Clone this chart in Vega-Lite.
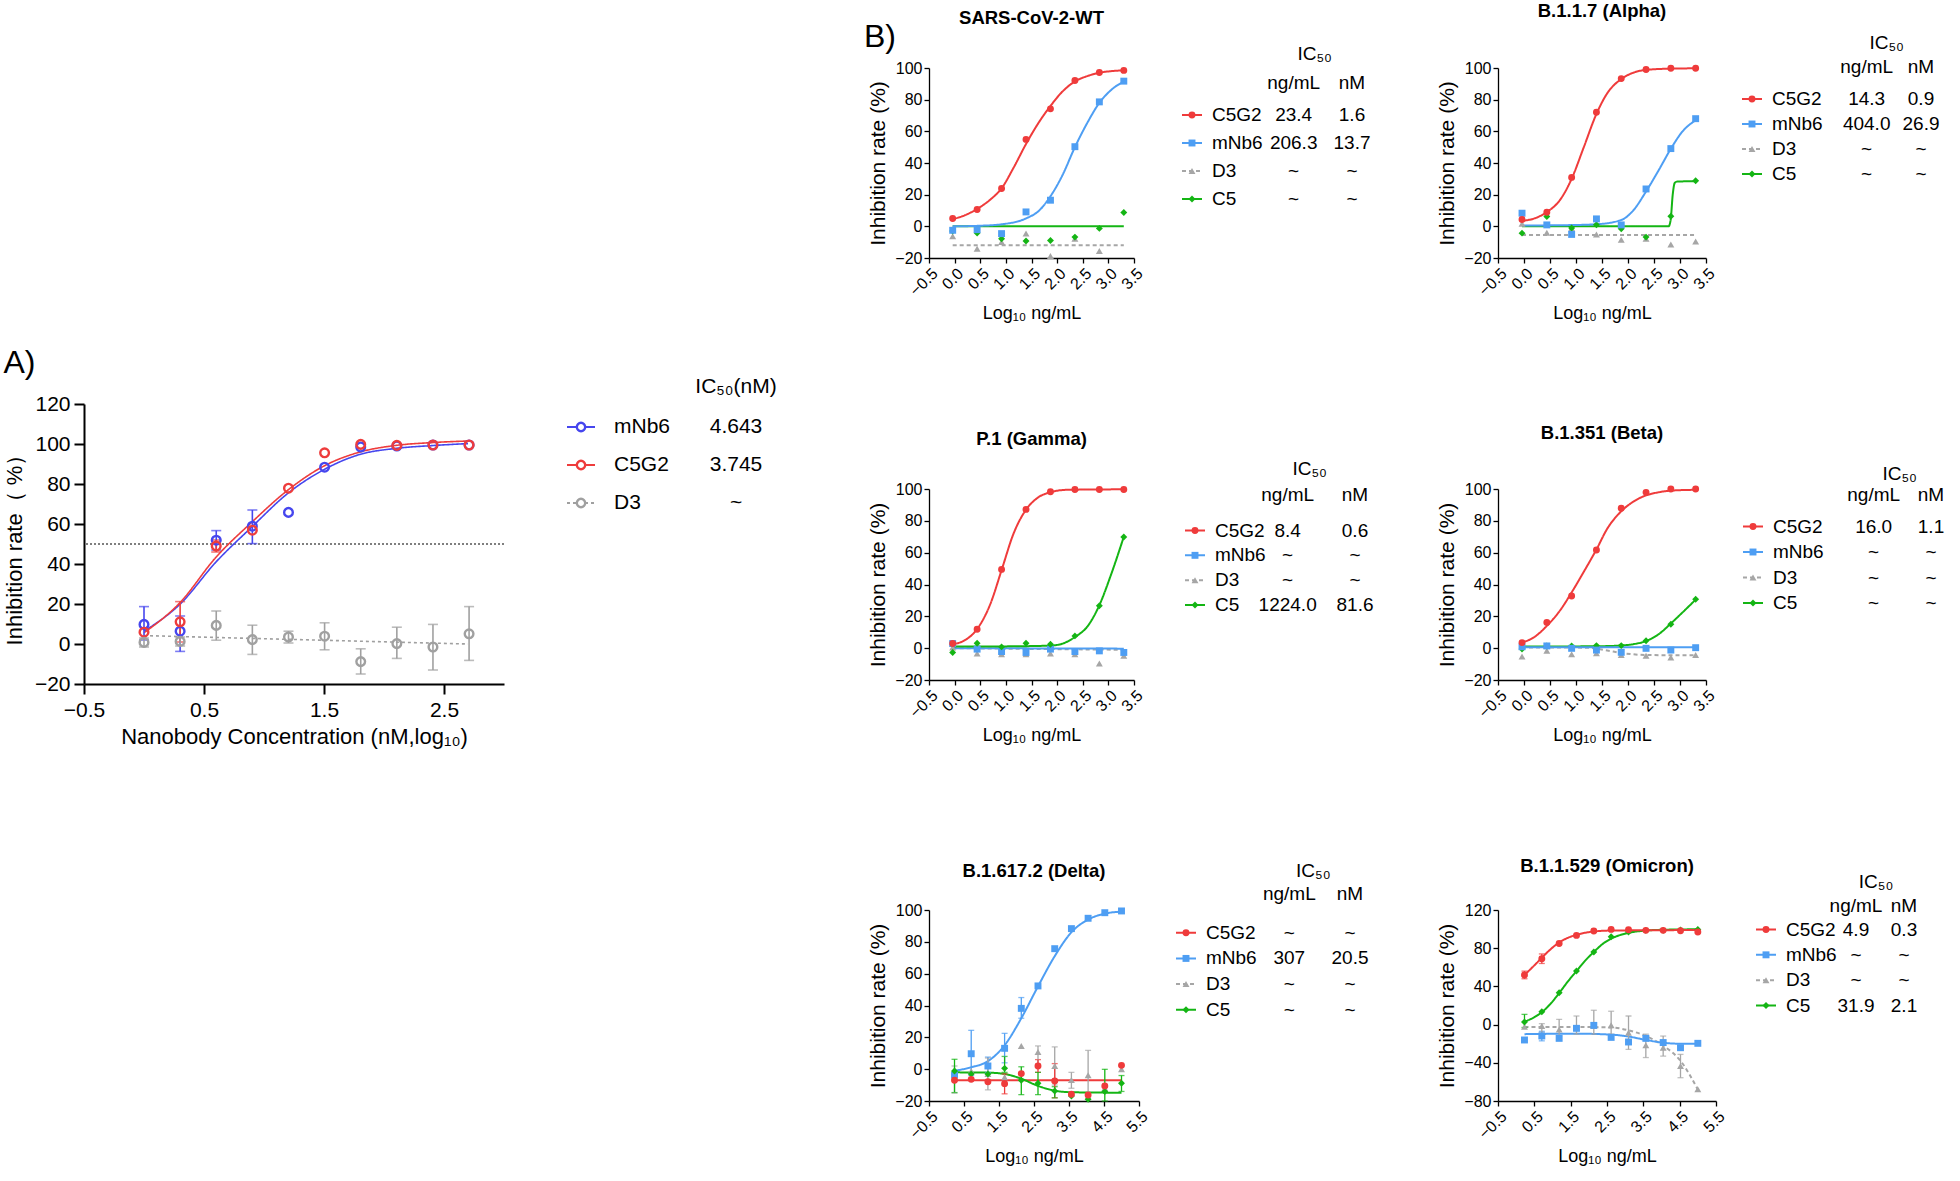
{
"$schema": "https://vega.github.io/schema/vega-lite/v6.json",
"background": "white",
"padding": {"left": 3, "top": 1, "right": 0, "bottom": 0},
"config": {
  "font": "Liberation Sans",
  "view": {"stroke": null},
  "axis": {"grid": false, "domainColor": "#000", "tickColor": "#000", "labelColor": "#000", "titleColor": "#000", "labelFont": "Liberation Sans", "titleFont": "Liberation Sans", "titleFontWeight": "normal", "labelFontSize": 16, "titleFontSize": 18, "domainWidth": 1.3, "tickWidth": 1.3, "tickSize": 5, "labelPadding": 2, "labelOverlap": false, "labelFlush": false},
  "legend": {"disable": true},
  "title": {"font": "Liberation Sans", "color": "#000"},
  "text": {"font": "Liberation Sans", "color": "#000", "baseline": "middle"}
},
"datasets": {
  "ptsA": [
    {"s":"mNb6","x":0,"y":9.8},{"s":"mNb6","x":0.301,"y":6.4},{"s":"mNb6","x":0.602,"y":51.9},{"s":"mNb6","x":0.903,"y":58.9},{"s":"mNb6","x":1.204,"y":65.8},{"s":"mNb6","x":1.505,"y":88.4},{"s":"mNb6","x":1.806,"y":98.5},{"s":"mNb6","x":2.107,"y":99},{"s":"mNb6","x":2.408,"y":99.5},{"s":"mNb6","x":2.709,"y":99.5},
    {"s":"C5G2","x":0,"y":5.9},{"s":"C5G2","x":0.301,"y":11.1},{"s":"C5G2","x":0.602,"y":49},{"s":"C5G2","x":0.903,"y":56.9},{"s":"C5G2","x":1.204,"y":77.9},{"s":"C5G2","x":1.505,"y":95.6},{"s":"C5G2","x":1.806,"y":99.8},{"s":"C5G2","x":2.107,"y":99.3},{"s":"C5G2","x":2.408,"y":99.5},{"s":"C5G2","x":2.709,"y":99.5},
    {"s":"D3","x":0,"y":0.8},{"s":"D3","x":0.301,"y":1.3},{"s":"D3","x":0.602,"y":9.3},{"s":"D3","x":0.903,"y":2.2},{"s":"D3","x":1.204,"y":3.5},{"s":"D3","x":1.505,"y":3.9},{"s":"D3","x":1.806,"y":-8.8},{"s":"D3","x":2.107,"y":0.2},{"s":"D3","x":2.408,"y":-1.5},{"s":"D3","x":2.709,"y":5.1}
  ],
  "errA": [
    {"s":"mNb6","x":0,"lo":2,"hi":18.7},{"s":"mNb6","x":0.301,"lo":-3.7,"hi":14},{"s":"mNb6","x":0.602,"lo":47,"hi":56.7},{"s":"mNb6","x":0.903,"lo":50.2,"hi":67},
    {"s":"C5G2","x":0.301,"lo":1,"hi":21.2},{"s":"C5G2","x":0.602,"lo":46,"hi":52},
    {"s":"D3","x":0,"lo":-1.5,"hi":3},{"s":"D3","x":0.301,"lo":-1,"hi":3.5},{"s":"D3","x":0.602,"lo":1.9,"hi":16.5},{"s":"D3","x":0.903,"lo":-5.2,"hi":9.4},{"s":"D3","x":1.204,"lo":0.5,"hi":6.4},{"s":"D3","x":1.505,"lo":-2.9,"hi":10.6},{"s":"D3","x":1.806,"lo":-15,"hi":-2.4},{"s":"D3","x":2.107,"lo":-7.2,"hi":8.4},{"s":"D3","x":2.408,"lo":-13,"hi":9.8},{"s":"D3","x":2.709,"lo":-8.2,"hi":18.7}
  ],
  "fitA": [
    {"s":"mNb6","x":0,"y":6.4},{"s":"mNb6","x":0.3,"y":19.9},{"s":"mNb6","x":0.6,"y":41},{"s":"mNb6","x":0.9,"y":58.6},{"s":"mNb6","x":1.2,"y":75.4},{"s":"mNb6","x":1.5,"y":87.2},{"s":"mNb6","x":1.8,"y":94.8},{"s":"mNb6","x":2.1,"y":97.8},{"s":"mNb6","x":2.4,"y":99.2},{"s":"mNb6","x":2.7,"y":100.2},
    {"s":"C5G2","x":0,"y":5.6},{"s":"C5G2","x":0.3,"y":20.7},{"s":"C5G2","x":0.6,"y":43.4},{"s":"C5G2","x":0.9,"y":61},{"s":"C5G2","x":1.2,"y":77},{"s":"C5G2","x":1.5,"y":89},{"s":"C5G2","x":1.8,"y":96},{"s":"C5G2","x":2.1,"y":99.3},{"s":"C5G2","x":2.4,"y":100.7},{"s":"C5G2","x":2.7,"y":101.5},
    {"s":"D3","x":0,"y":4.2},{"s":"D3","x":2.7,"y":0}
  ],
  "legA": [
    {"s":"mNb6","v":"4.643"},{"s":"C5G2","v":"3.745"},{"s":"D3","v":"~"}
  ],
  "pts": [
    {"p":"WT","s":"C5G2","x":-0.038,"y":4.9},{"p":"WT","s":"C5G2","x":0.439,"y":10.6},{"p":"WT","s":"C5G2","x":0.916,"y":23.9},{"p":"WT","s":"C5G2","x":1.393,"y":54.9},{"p":"WT","s":"C5G2","x":1.87,"y":74.2},{"p":"WT","s":"C5G2","x":2.347,"y":92.1},{"p":"WT","s":"C5G2","x":2.824,"y":97.2},{"p":"WT","s":"C5G2","x":3.301,"y":98.5},
    {"p":"WT","s":"D3","x":-0.038,"y":-6.3},{"p":"WT","s":"D3","x":0.439,"y":-14.2},{"p":"WT","s":"D3","x":0.916,"y":-9.9},{"p":"WT","s":"D3","x":1.393,"y":-4.6},{"p":"WT","s":"D3","x":1.87,"y":-18.8},{"p":"WT","s":"D3","x":2.347,"y":-7.8},{"p":"WT","s":"D3","x":2.824,"y":-15.6},
    {"p":"WT","s":"C5","x":-0.038,"y":-3},{"p":"WT","s":"C5","x":0.439,"y":-4.2},{"p":"WT","s":"C5","x":0.916,"y":-7.8},{"p":"WT","s":"C5","x":1.393,"y":-9.3},{"p":"WT","s":"C5","x":1.87,"y":-8.9},{"p":"WT","s":"C5","x":2.347,"y":-6.8},{"p":"WT","s":"C5","x":2.824,"y":-1.3},{"p":"WT","s":"C5","x":3.301,"y":8.7},
    {"p":"WT","s":"mNb6","x":-0.038,"y":-2.5},{"p":"WT","s":"mNb6","x":0.439,"y":-2.1},{"p":"WT","s":"mNb6","x":0.916,"y":-4.6},{"p":"WT","s":"mNb6","x":1.393,"y":9.1},{"p":"WT","s":"mNb6","x":1.87,"y":16.5},{"p":"WT","s":"mNb6","x":2.347,"y":50.3},{"p":"WT","s":"mNb6","x":2.824,"y":78.6},{"p":"WT","s":"mNb6","x":3.301,"y":91.7},

    {"p":"Alpha","s":"D3","x":-0.038,"y":1.6},{"p":"Alpha","s":"D3","x":0.439,"y":-4.1},{"p":"Alpha","s":"D3","x":0.916,"y":-1.2},{"p":"Alpha","s":"D3","x":1.393,"y":-5.1},{"p":"Alpha","s":"D3","x":1.87,"y":-8.4},{"p":"Alpha","s":"D3","x":2.347,"y":-7.9},{"p":"Alpha","s":"D3","x":2.824,"y":-11.4},{"p":"Alpha","s":"D3","x":3.301,"y":-9.5},
    {"p":"Alpha","s":"C5","x":-0.038,"y":-4.3},{"p":"Alpha","s":"C5","x":0.439,"y":6.2},{"p":"Alpha","s":"C5","x":0.916,"y":-1},{"p":"Alpha","s":"C5","x":1.393,"y":1},{"p":"Alpha","s":"C5","x":1.87,"y":-1.6},{"p":"Alpha","s":"C5","x":2.347,"y":-6.8},{"p":"Alpha","s":"C5","x":2.824,"y":6.4},{"p":"Alpha","s":"C5","x":3.301,"y":28.8},
    {"p":"Alpha","s":"mNb6","x":-0.038,"y":8.3},{"p":"Alpha","s":"mNb6","x":0.439,"y":0.9},{"p":"Alpha","s":"mNb6","x":0.916,"y":-5.1},{"p":"Alpha","s":"mNb6","x":1.393,"y":4.7},{"p":"Alpha","s":"mNb6","x":1.87,"y":0.9},{"p":"Alpha","s":"mNb6","x":2.347,"y":23.6},{"p":"Alpha","s":"mNb6","x":2.824,"y":49.1},{"p":"Alpha","s":"mNb6","x":3.301,"y":68},
    {"p":"Alpha","s":"C5G2","x":-0.038,"y":4.3},{"p":"Alpha","s":"C5G2","x":0.439,"y":8.9},{"p":"Alpha","s":"C5G2","x":0.916,"y":30.9},{"p":"Alpha","s":"C5G2","x":1.393,"y":72.1},{"p":"Alpha","s":"C5G2","x":1.87,"y":93.3},{"p":"Alpha","s":"C5G2","x":2.347,"y":99},{"p":"Alpha","s":"C5G2","x":2.824,"y":99.8},{"p":"Alpha","s":"C5G2","x":3.301,"y":99.8},

    {"p":"Gamma","s":"D3","x":-0.038,"y":0.4},{"p":"Gamma","s":"D3","x":0.439,"y":-3.3},{"p":"Gamma","s":"D3","x":0.916,"y":-3.8},{"p":"Gamma","s":"D3","x":1.393,"y":-3.8},{"p":"Gamma","s":"D3","x":1.87,"y":-3.3},{"p":"Gamma","s":"D3","x":2.347,"y":-3.8},{"p":"Gamma","s":"D3","x":2.824,"y":-9.6},{"p":"Gamma","s":"D3","x":3.301,"y":-4.8},
    {"p":"Gamma","s":"mNb6","x":-0.038,"y":2.9},{"p":"Gamma","s":"mNb6","x":0.439,"y":-0.6},{"p":"Gamma","s":"mNb6","x":0.916,"y":-2.1},{"p":"Gamma","s":"mNb6","x":1.393,"y":-2.7},{"p":"Gamma","s":"mNb6","x":1.87,"y":-0.6},{"p":"Gamma","s":"mNb6","x":2.347,"y":-2.1},{"p":"Gamma","s":"mNb6","x":2.824,"y":-1.7},{"p":"Gamma","s":"mNb6","x":3.301,"y":-2.7},
    {"p":"Gamma","s":"C5","x":-0.038,"y":-2.7},{"p":"Gamma","s":"C5","x":0.439,"y":3.1},{"p":"Gamma","s":"C5","x":0.916,"y":0.8},{"p":"Gamma","s":"C5","x":1.393,"y":3.1},{"p":"Gamma","s":"C5","x":1.87,"y":2.5},{"p":"Gamma","s":"C5","x":2.347,"y":7.7},{"p":"Gamma","s":"C5","x":2.824,"y":26.6},{"p":"Gamma","s":"C5","x":3.301,"y":69.8},
    {"p":"Gamma","s":"C5G2","x":-0.038,"y":2.9},{"p":"Gamma","s":"C5G2","x":0.439,"y":11.9},{"p":"Gamma","s":"C5G2","x":0.916,"y":49.5},{"p":"Gamma","s":"C5G2","x":1.393,"y":87.2},{"p":"Gamma","s":"C5G2","x":1.87,"y":98.3},{"p":"Gamma","s":"C5G2","x":2.347,"y":99.7},{"p":"Gamma","s":"C5G2","x":2.824,"y":99.7},{"p":"Gamma","s":"C5G2","x":3.301,"y":99.7},

    {"p":"Beta","s":"D3","x":-0.038,"y":-5.3},{"p":"Beta","s":"D3","x":0.439,"y":-1.6},{"p":"Beta","s":"D3","x":0.916,"y":-3.9},{"p":"Beta","s":"D3","x":1.393,"y":-3.2},{"p":"Beta","s":"D3","x":1.87,"y":-4.3},{"p":"Beta","s":"D3","x":2.347,"y":-4.7},{"p":"Beta","s":"D3","x":2.824,"y":-5.8},{"p":"Beta","s":"D3","x":3.301,"y":-4.3},
    {"p":"Beta","s":"C5","x":-0.038,"y":-0.5},{"p":"Beta","s":"C5","x":0.439,"y":1.4},{"p":"Beta","s":"C5","x":0.916,"y":1.4},{"p":"Beta","s":"C5","x":1.393,"y":1.6},{"p":"Beta","s":"C5","x":1.87,"y":1.6},{"p":"Beta","s":"C5","x":2.347,"y":4.7},{"p":"Beta","s":"C5","x":2.824,"y":15},{"p":"Beta","s":"C5","x":3.301,"y":30.7},
    {"p":"Beta","s":"mNb6","x":-0.038,"y":0.9},{"p":"Beta","s":"mNb6","x":0.439,"y":1.4},{"p":"Beta","s":"mNb6","x":0.916,"y":-0.1},{"p":"Beta","s":"mNb6","x":1.393,"y":-1.2},{"p":"Beta","s":"mNb6","x":1.87,"y":-2.6},{"p":"Beta","s":"mNb6","x":2.347,"y":-0.1},{"p":"Beta","s":"mNb6","x":2.824,"y":-1.2},{"p":"Beta","s":"mNb6","x":3.301,"y":0.3},
    {"p":"Beta","s":"C5G2","x":-0.038,"y":3.5},{"p":"Beta","s":"C5G2","x":0.439,"y":16.2},{"p":"Beta","s":"C5G2","x":0.916,"y":32.8},{"p":"Beta","s":"C5G2","x":1.393,"y":61.7},{"p":"Beta","s":"C5G2","x":1.87,"y":87.9},{"p":"Beta","s":"C5G2","x":2.347,"y":97.9},{"p":"Beta","s":"C5G2","x":2.824,"y":100},{"p":"Beta","s":"C5G2","x":3.301,"y":100},

    {"p":"Delta","s":"D3","x":0.229,"y":-5},{"p":"Delta","s":"D3","x":0.706,"y":-1.2},{"p":"Delta","s":"D3","x":1.183,"y":-3},{"p":"Delta","s":"D3","x":1.66,"y":-5},{"p":"Delta","s":"D3","x":2.137,"y":14.6},{"p":"Delta","s":"D3","x":2.614,"y":10.8},{"p":"Delta","s":"D3","x":3.092,"y":2},{"p":"Delta","s":"D3","x":3.569,"y":-6.8},{"p":"Delta","s":"D3","x":4.046,"y":-3.9},{"p":"Delta","s":"D3","x":4.523,"y":-12},{"p":"Delta","s":"D3","x":5.0,"y":0},
    {"p":"Delta","s":"mNb6","x":0.229,"y":-3.7},{"p":"Delta","s":"mNb6","x":0.706,"y":9.7},{"p":"Delta","s":"mNb6","x":1.183,"y":2},{"p":"Delta","s":"mNb6","x":1.66,"y":13.1},{"p":"Delta","s":"mNb6","x":2.137,"y":38.2},{"p":"Delta","s":"mNb6","x":2.614,"y":52.3},{"p":"Delta","s":"mNb6","x":3.092,"y":75.7},{"p":"Delta","s":"mNb6","x":3.569,"y":88.3},{"p":"Delta","s":"mNb6","x":4.046,"y":94.8},{"p":"Delta","s":"mNb6","x":4.523,"y":98.3},{"p":"Delta","s":"mNb6","x":5.0,"y":99.4},
    {"p":"Delta","s":"C5","x":0.229,"y":-1.2},{"p":"Delta","s":"C5","x":0.706,"y":-3},{"p":"Delta","s":"C5","x":1.183,"y":-3},{"p":"Delta","s":"C5","x":1.66,"y":0.5},{"p":"Delta","s":"C5","x":2.137,"y":-7},{"p":"Delta","s":"C5","x":2.614,"y":-8.9},{"p":"Delta","s":"C5","x":3.092,"y":-13.7},{"p":"Delta","s":"C5","x":3.569,"y":-16.9},{"p":"Delta","s":"C5","x":4.046,"y":-18.9},{"p":"Delta","s":"C5","x":4.523,"y":-14.1},{"p":"Delta","s":"C5","x":5.0,"y":-8.9},
    {"p":"Delta","s":"C5G2","x":0.229,"y":-7},{"p":"Delta","s":"C5G2","x":0.706,"y":-6.4},{"p":"Delta","s":"C5G2","x":1.183,"y":-7.9},{"p":"Delta","s":"C5G2","x":1.66,"y":-9.1},{"p":"Delta","s":"C5G2","x":2.137,"y":-2.8},{"p":"Delta","s":"C5G2","x":2.614,"y":2},{"p":"Delta","s":"C5G2","x":3.092,"y":-7.4},{"p":"Delta","s":"C5G2","x":3.569,"y":-15.8},{"p":"Delta","s":"C5G2","x":4.046,"y":-16.2},{"p":"Delta","s":"C5G2","x":4.523,"y":-10.5},{"p":"Delta","s":"C5G2","x":5.0,"y":2.4},

    {"p":"Omicron","s":"D3","x":0.229,"y":-2.2},{"p":"Omicron","s":"D3","x":0.706,"y":-1.5},{"p":"Omicron","s":"D3","x":1.183,"y":-5},{"p":"Omicron","s":"D3","x":1.66,"y":-3.2},{"p":"Omicron","s":"D3","x":2.137,"y":-1.5},{"p":"Omicron","s":"D3","x":2.614,"y":-0.8},{"p":"Omicron","s":"D3","x":3.092,"y":-8.5},{"p":"Omicron","s":"D3","x":3.569,"y":-21.7},{"p":"Omicron","s":"D3","x":4.046,"y":-24.2},{"p":"Omicron","s":"D3","x":4.523,"y":-43.4},{"p":"Omicron","s":"D3","x":5.0,"y":-67.8},
    {"p":"Omicron","s":"mNb6","x":0.229,"y":-16.1},{"p":"Omicron","s":"mNb6","x":0.706,"y":-11.9},{"p":"Omicron","s":"mNb6","x":1.183,"y":-14.4},{"p":"Omicron","s":"mNb6","x":1.66,"y":-3.9},{"p":"Omicron","s":"mNb6","x":2.137,"y":-0.8},{"p":"Omicron","s":"mNb6","x":2.614,"y":-13.4},{"p":"Omicron","s":"mNb6","x":3.092,"y":-18.2},{"p":"Omicron","s":"mNb6","x":3.569,"y":-14.4},{"p":"Omicron","s":"mNb6","x":4.046,"y":-18.8},{"p":"Omicron","s":"mNb6","x":4.523,"y":-24.2},{"p":"Omicron","s":"mNb6","x":5.0,"y":-19.6},
    {"p":"Omicron","s":"C5","x":0.229,"y":2.7},{"p":"Omicron","s":"C5","x":0.706,"y":13.5},{"p":"Omicron","s":"C5","x":1.183,"y":33.4},{"p":"Omicron","s":"C5","x":1.66,"y":56.1},{"p":"Omicron","s":"C5","x":2.137,"y":76},{"p":"Omicron","s":"C5","x":2.614,"y":92},{"p":"Omicron","s":"C5","x":3.092,"y":97},{"p":"Omicron","s":"C5","x":3.569,"y":98.7},{"p":"Omicron","s":"C5","x":4.046,"y":98.7},{"p":"Omicron","s":"C5","x":4.523,"y":99},{"p":"Omicron","s":"C5","x":5.0,"y":99.7},
    {"p":"Omicron","s":"C5G2","x":0.229,"y":52},{"p":"Omicron","s":"C5G2","x":0.706,"y":69},{"p":"Omicron","s":"C5G2","x":1.183,"y":85},{"p":"Omicron","s":"C5G2","x":1.66,"y":93.4},{"p":"Omicron","s":"C5G2","x":2.137,"y":98},{"p":"Omicron","s":"C5G2","x":2.614,"y":99.7},{"p":"Omicron","s":"C5G2","x":3.092,"y":99.4},{"p":"Omicron","s":"C5G2","x":3.569,"y":98.7},{"p":"Omicron","s":"C5G2","x":4.046,"y":98.7},{"p":"Omicron","s":"C5G2","x":4.523,"y":98.3},{"p":"Omicron","s":"C5G2","x":5.0,"y":97}
  ],
  "err": [
    {"p":"Delta","s":"mNb6","x":0.706,"lo":-4,"hi":24.4},{"p":"Delta","s":"mNb6","x":1.183,"lo":-2,"hi":7.6},{"p":"Delta","s":"mNb6","x":1.66,"lo":4,"hi":22.5},{"p":"Delta","s":"mNb6","x":2.137,"lo":32,"hi":45},
    {"p":"Delta","s":"D3","x":0.229,"lo":-15,"hi":2},{"p":"Delta","s":"D3","x":1.183,"lo":-13,"hi":7},{"p":"Delta","s":"D3","x":2.614,"lo":3,"hi":14.6},{"p":"Delta","s":"D3","x":3.092,"lo":-10,"hi":14},{"p":"Delta","s":"D3","x":3.569,"lo":-12,"hi":-2},{"p":"Delta","s":"D3","x":4.046,"lo":-18,"hi":11.8},
    {"p":"Delta","s":"C5G2","x":1.66,"lo":-15.5,"hi":-3},{"p":"Delta","s":"C5G2","x":2.614,"lo":-2,"hi":6},{"p":"Delta","s":"C5G2","x":3.092,"lo":-18,"hi":3.5},
    {"p":"Delta","s":"C5","x":0.229,"lo":-14.7,"hi":6.2},{"p":"Delta","s":"C5","x":1.66,"lo":-2,"hi":8},{"p":"Delta","s":"C5","x":2.137,"lo":-16,"hi":1.5},{"p":"Delta","s":"C5","x":2.614,"lo":-16,"hi":-2},{"p":"Delta","s":"C5","x":3.092,"lo":-18,"hi":-11},{"p":"Delta","s":"C5","x":4.523,"lo":-20,"hi":-0.1},{"p":"Delta","s":"C5","x":5.0,"lo":-14,"hi":-4},
    {"p":"Omicron","s":"C5G2","x":0.229,"lo":48,"hi":56},{"p":"Omicron","s":"C5G2","x":0.706,"lo":64,"hi":74},
    {"p":"Omicron","s":"C5","x":0.229,"lo":-3,"hi":10.7},
    {"p":"Omicron","s":"mNb6","x":0.706,"lo":-17,"hi":-7},
    {"p":"Omicron","s":"D3","x":0.706,"lo":-8,"hi":1},{"p":"Omicron","s":"D3","x":1.183,"lo":-12,"hi":5.5},{"p":"Omicron","s":"D3","x":1.66,"lo":-10,"hi":9},{"p":"Omicron","s":"D3","x":2.137,"lo":-10,"hi":15},{"p":"Omicron","s":"D3","x":2.614,"lo":-10,"hi":14},{"p":"Omicron","s":"D3","x":3.092,"lo":-26,"hi":9},{"p":"Omicron","s":"D3","x":3.569,"lo":-34.5,"hi":-10},{"p":"Omicron","s":"D3","x":4.046,"lo":-33,"hi":-12},{"p":"Omicron","s":"D3","x":4.523,"lo":-55.6,"hi":-31.2}
  ],
  "fit": [
    {"p":"WT","s":"D3","x":-0.038,"y":-12},{"p":"WT","s":"D3","x":3.301,"y":-12},
    {"p":"WT","s":"C5","x":-0.038,"y":0},{"p":"WT","s":"C5","x":3.301,"y":0},
    {"p":"WT","s":"C5G2","x":-0.038,"y":4.5},{"p":"WT","s":"C5G2","x":0.2,"y":7},{"p":"WT","s":"C5G2","x":0.439,"y":11},{"p":"WT","s":"C5G2","x":0.7,"y":17},{"p":"WT","s":"C5G2","x":0.916,"y":24},{"p":"WT","s":"C5G2","x":1.15,"y":37},{"p":"WT","s":"C5G2","x":1.393,"y":52},{"p":"WT","s":"C5G2","x":1.65,"y":66},{"p":"WT","s":"C5G2","x":1.87,"y":76},{"p":"WT","s":"C5G2","x":2.1,"y":85},{"p":"WT","s":"C5G2","x":2.347,"y":91.5},{"p":"WT","s":"C5G2","x":2.6,"y":95},{"p":"WT","s":"C5G2","x":2.824,"y":97},{"p":"WT","s":"C5G2","x":3.05,"y":98},{"p":"WT","s":"C5G2","x":3.301,"y":98.5},
    {"p":"WT","s":"mNb6","x":-0.038,"y":0},{"p":"WT","s":"mNb6","x":0.439,"y":0.3},{"p":"WT","s":"mNb6","x":0.916,"y":1.3},{"p":"WT","s":"mNb6","x":1.393,"y":5},{"p":"WT","s":"mNb6","x":1.65,"y":10},{"p":"WT","s":"mNb6","x":1.87,"y":19},{"p":"WT","s":"mNb6","x":2.1,"y":32},{"p":"WT","s":"mNb6","x":2.347,"y":50},{"p":"WT","s":"mNb6","x":2.6,"y":66},{"p":"WT","s":"mNb6","x":2.824,"y":78},{"p":"WT","s":"mNb6","x":3.05,"y":86},{"p":"WT","s":"mNb6","x":3.301,"y":91.5},

    {"p":"Alpha","s":"D3","x":-0.038,"y":-5.5},{"p":"Alpha","s":"D3","x":3.301,"y":-5.5},
    {"p":"Alpha","s":"C5","x":-0.038,"y":0},{"p":"Alpha","s":"C5","x":2.78,"y":0},{"p":"Alpha","s":"C5","x":2.82,"y":4},{"p":"Alpha","s":"C5","x":2.86,"y":20},{"p":"Alpha","s":"C5","x":2.9,"y":27.5},{"p":"Alpha","s":"C5","x":2.95,"y":28.3},{"p":"Alpha","s":"C5","x":3.301,"y":28.5},
    {"p":"Alpha","s":"mNb6","x":-0.038,"y":0.5},{"p":"Alpha","s":"mNb6","x":0.916,"y":0.8},{"p":"Alpha","s":"mNb6","x":1.393,"y":1.3},{"p":"Alpha","s":"mNb6","x":1.87,"y":4},{"p":"Alpha","s":"mNb6","x":2.1,"y":10},{"p":"Alpha","s":"mNb6","x":2.347,"y":22},{"p":"Alpha","s":"mNb6","x":2.6,"y":36},{"p":"Alpha","s":"mNb6","x":2.824,"y":49},{"p":"Alpha","s":"mNb6","x":3.05,"y":60},{"p":"Alpha","s":"mNb6","x":3.301,"y":67},
    {"p":"Alpha","s":"C5G2","x":-0.038,"y":3.5},{"p":"Alpha","s":"C5G2","x":0.2,"y":5},{"p":"Alpha","s":"C5G2","x":0.439,"y":9},{"p":"Alpha","s":"C5G2","x":0.7,"y":17},{"p":"Alpha","s":"C5G2","x":0.916,"y":30},{"p":"Alpha","s":"C5G2","x":1.15,"y":50},{"p":"Alpha","s":"C5G2","x":1.393,"y":71},{"p":"Alpha","s":"C5G2","x":1.6,"y":84},{"p":"Alpha","s":"C5G2","x":1.87,"y":93},{"p":"Alpha","s":"C5G2","x":2.1,"y":97},{"p":"Alpha","s":"C5G2","x":2.347,"y":98.8},{"p":"Alpha","s":"C5G2","x":2.824,"y":99.6},{"p":"Alpha","s":"C5G2","x":3.301,"y":99.8},

    {"p":"Gamma","s":"D3","x":-0.038,"y":0},{"p":"Gamma","s":"D3","x":3.301,"y":-1},
    {"p":"Gamma","s":"mNb6","x":-0.038,"y":0},{"p":"Gamma","s":"mNb6","x":3.301,"y":-0.3},
    {"p":"Gamma","s":"C5","x":-0.038,"y":1},{"p":"Gamma","s":"C5","x":0.916,"y":1.1},{"p":"Gamma","s":"C5","x":1.87,"y":1.6},{"p":"Gamma","s":"C5","x":2.1,"y":2.8},{"p":"Gamma","s":"C5","x":2.347,"y":7},{"p":"Gamma","s":"C5","x":2.6,"y":14},{"p":"Gamma","s":"C5","x":2.824,"y":27},{"p":"Gamma","s":"C5","x":3.05,"y":46},{"p":"Gamma","s":"C5","x":3.301,"y":70},
    {"p":"Gamma","s":"C5G2","x":-0.038,"y":2.5},{"p":"Gamma","s":"C5G2","x":0.2,"y":5},{"p":"Gamma","s":"C5G2","x":0.439,"y":12},{"p":"Gamma","s":"C5G2","x":0.7,"y":28},{"p":"Gamma","s":"C5G2","x":0.916,"y":49},{"p":"Gamma","s":"C5G2","x":1.15,"y":72},{"p":"Gamma","s":"C5G2","x":1.393,"y":87},{"p":"Gamma","s":"C5G2","x":1.6,"y":94},{"p":"Gamma","s":"C5G2","x":1.87,"y":98},{"p":"Gamma","s":"C5G2","x":2.2,"y":99.5},{"p":"Gamma","s":"C5G2","x":3.301,"y":99.8},

    {"p":"Beta","s":"D3","x":-0.038,"y":0.5},{"p":"Beta","s":"D3","x":1.2,"y":0.3},{"p":"Beta","s":"D3","x":1.6,"y":-1.5},{"p":"Beta","s":"D3","x":1.87,"y":-3},{"p":"Beta","s":"D3","x":2.347,"y":-4.3},{"p":"Beta","s":"D3","x":3.301,"y":-4.5},
    {"p":"Beta","s":"C5","x":-0.038,"y":1},{"p":"Beta","s":"C5","x":1.393,"y":1.2},{"p":"Beta","s":"C5","x":1.87,"y":1.7},{"p":"Beta","s":"C5","x":2.1,"y":2.5},{"p":"Beta","s":"C5","x":2.347,"y":4.5},{"p":"Beta","s":"C5","x":2.6,"y":9},{"p":"Beta","s":"C5","x":2.824,"y":15.5},{"p":"Beta","s":"C5","x":3.05,"y":22.5},{"p":"Beta","s":"C5","x":3.301,"y":30.5},
    {"p":"Beta","s":"mNb6","x":-0.038,"y":0.5},{"p":"Beta","s":"mNb6","x":3.301,"y":0.5},
    {"p":"Beta","s":"C5G2","x":-0.038,"y":3.5},{"p":"Beta","s":"C5G2","x":0.2,"y":7},{"p":"Beta","s":"C5G2","x":0.439,"y":14},{"p":"Beta","s":"C5G2","x":0.7,"y":24},{"p":"Beta","s":"C5G2","x":0.916,"y":35},{"p":"Beta","s":"C5G2","x":1.15,"y":48},{"p":"Beta","s":"C5G2","x":1.393,"y":62},{"p":"Beta","s":"C5G2","x":1.6,"y":75},{"p":"Beta","s":"C5G2","x":1.87,"y":86},{"p":"Beta","s":"C5G2","x":2.1,"y":92},{"p":"Beta","s":"C5G2","x":2.347,"y":96},{"p":"Beta","s":"C5G2","x":2.6,"y":98},{"p":"Beta","s":"C5G2","x":2.824,"y":99},{"p":"Beta","s":"C5G2","x":3.301,"y":99.5},

    {"p":"Delta","s":"C5G2","x":0.229,"y":-7},{"p":"Delta","s":"C5G2","x":5.0,"y":-7},
    {"p":"Delta","s":"C5","x":0.229,"y":-2},{"p":"Delta","s":"C5","x":1.183,"y":-2.2},{"p":"Delta","s":"C5","x":1.66,"y":-3},{"p":"Delta","s":"C5","x":2.137,"y":-6},{"p":"Delta","s":"C5","x":2.614,"y":-10.5},{"p":"Delta","s":"C5","x":3.092,"y":-13.5},{"p":"Delta","s":"C5","x":3.569,"y":-14.5},{"p":"Delta","s":"C5","x":5.0,"y":-14.8},
    {"p":"Delta","s":"mNb6","x":0.229,"y":-1},{"p":"Delta","s":"mNb6","x":0.706,"y":1.2},{"p":"Delta","s":"mNb6","x":1.183,"y":5},{"p":"Delta","s":"mNb6","x":1.66,"y":15},{"p":"Delta","s":"mNb6","x":2.137,"y":32},{"p":"Delta","s":"mNb6","x":2.614,"y":52},{"p":"Delta","s":"mNb6","x":3.092,"y":71},{"p":"Delta","s":"mNb6","x":3.569,"y":86},{"p":"Delta","s":"mNb6","x":4.046,"y":94},{"p":"Delta","s":"mNb6","x":4.523,"y":97.7},{"p":"Delta","s":"mNb6","x":5.0,"y":99},

    {"p":"Omicron","s":"D3","x":0.229,"y":-2.5},{"p":"Omicron","s":"D3","x":1.66,"y":-2.5},{"p":"Omicron","s":"D3","x":2.614,"y":-3},{"p":"Omicron","s":"D3","x":3.092,"y":-6},{"p":"Omicron","s":"D3","x":3.569,"y":-12},{"p":"Omicron","s":"D3","x":4.046,"y":-22},{"p":"Omicron","s":"D3","x":4.523,"y":-38},{"p":"Omicron","s":"D3","x":5.0,"y":-68},
    {"p":"Omicron","s":"mNb6","x":0.229,"y":-10},{"p":"Omicron","s":"mNb6","x":1.66,"y":-9.5},{"p":"Omicron","s":"mNb6","x":2.614,"y":-10.5},{"p":"Omicron","s":"mNb6","x":3.092,"y":-12.5},{"p":"Omicron","s":"mNb6","x":3.569,"y":-16},{"p":"Omicron","s":"mNb6","x":4.046,"y":-19},{"p":"Omicron","s":"mNb6","x":4.523,"y":-20},{"p":"Omicron","s":"mNb6","x":5.0,"y":-20},
    {"p":"Omicron","s":"C5","x":0.229,"y":3},{"p":"Omicron","s":"C5","x":0.706,"y":13},{"p":"Omicron","s":"C5","x":0.95,"y":22},{"p":"Omicron","s":"C5","x":1.183,"y":33},{"p":"Omicron","s":"C5","x":1.42,"y":45},{"p":"Omicron","s":"C5","x":1.66,"y":56},{"p":"Omicron","s":"C5","x":1.9,"y":67},{"p":"Omicron","s":"C5","x":2.137,"y":76},{"p":"Omicron","s":"C5","x":2.4,"y":85},{"p":"Omicron","s":"C5","x":2.614,"y":90},{"p":"Omicron","s":"C5","x":3.092,"y":96},{"p":"Omicron","s":"C5","x":3.569,"y":98.5},{"p":"Omicron","s":"C5","x":4.046,"y":99.3},{"p":"Omicron","s":"C5","x":5.0,"y":99.8},
    {"p":"Omicron","s":"C5G2","x":0.229,"y":52},{"p":"Omicron","s":"C5G2","x":0.5,"y":62},{"p":"Omicron","s":"C5G2","x":0.706,"y":70},{"p":"Omicron","s":"C5G2","x":0.95,"y":79},{"p":"Omicron","s":"C5G2","x":1.183,"y":86},{"p":"Omicron","s":"C5G2","x":1.4,"y":90.5},{"p":"Omicron","s":"C5G2","x":1.66,"y":94},{"p":"Omicron","s":"C5G2","x":2.137,"y":97.5},{"p":"Omicron","s":"C5G2","x":2.614,"y":98.5},{"p":"Omicron","s":"C5G2","x":5.0,"y":99}
  ],
  "leg": [
    {"p":"WT","s":"C5G2","ic":"23.4","nm":"1.6"},{"p":"WT","s":"mNb6","ic":"206.3","nm":"13.7"},{"p":"WT","s":"D3","ic":"~","nm":"~"},{"p":"WT","s":"C5","ic":"~","nm":"~"},
    {"p":"Alpha","s":"C5G2","ic":"14.3","nm":"0.9"},{"p":"Alpha","s":"mNb6","ic":"404.0","nm":"26.9"},{"p":"Alpha","s":"D3","ic":"~","nm":"~"},{"p":"Alpha","s":"C5","ic":"~","nm":"~"},
    {"p":"Gamma","s":"C5G2","ic":"8.4","nm":"0.6"},{"p":"Gamma","s":"mNb6","ic":"~","nm":"~"},{"p":"Gamma","s":"D3","ic":"~","nm":"~"},{"p":"Gamma","s":"C5","ic":"1224.0","nm":"81.6"},
    {"p":"Beta","s":"C5G2","ic":"16.0","nm":"1.1"},{"p":"Beta","s":"mNb6","ic":"~","nm":"~"},{"p":"Beta","s":"D3","ic":"~","nm":"~"},{"p":"Beta","s":"C5","ic":"~","nm":"~"},
    {"p":"Delta","s":"C5G2","ic":"~","nm":"~"},{"p":"Delta","s":"mNb6","ic":"307","nm":"20.5"},{"p":"Delta","s":"D3","ic":"~","nm":"~"},{"p":"Delta","s":"C5","ic":"~","nm":"~"},
    {"p":"Omicron","s":"C5G2","ic":"4.9","nm":"0.3"},{"p":"Omicron","s":"mNb6","ic":"~","nm":"~"},{"p":"Omicron","s":"D3","ic":"~","nm":"~"},{"p":"Omicron","s":"C5","ic":"31.9","nm":"2.1"}
  ]
},
"bounds": "flush",
"spacing": 845,
"resolve": {"scale": {"color": "independent", "shape": "independent", "strokeDash": "independent"}},
"hconcat": [
  {
    "bounds": "flush", "spacing": 0,
    "vconcat": [
      {"width": 700, "height": 336, "data": {"values": []}, "mark": {"type": "point"},
       "title": {"text": "B)", "anchor": "end", "fontSize": 32, "fontWeight": "normal", "offset": 14.5, "dx": 112}},
      {
        "bounds": "flush", "spacing": 0,
        "hconcat": [
          {
            "width": 420, "height": 280,
            "title": {"text": "A)", "anchor": "start", "frame": "bounds", "fontSize": 32, "fontWeight": "normal", "offset": 13.5},
            "layer": [
              {"data": {"values": [{"y": 50}]}, "mark": {"type": "rule", "color": "#555", "strokeDash": [2, 2], "strokeWidth": 1.5},
               "encoding": {"y": {"field": "y", "type": "quantitative", "title": "Inhibition rate（ %）"}}},
              {"data": {"name": "fitA"}, "mark": {"type": "line", "interpolate": "monotone", "strokeWidth": 1.6},
               "encoding": {
                 "x": {"field": "x", "type": "quantitative", "title": "Nanobody Concentration (nM,log₁₀)",
                       "scale": {"domain": [-0.5, 3.0], "nice": false, "zero": false},
                       "axis": {"values": [-0.5, 0.5, 1.5, 2.5], "tickCount": 20, "format": ".1f", "labelOverlap": false, "labelFlush": false, "labelFontSize": 21, "titleFontSize": 22, "tickSize": 10, "domainWidth": 2, "tickWidth": 2, "labelPadding": 5, "titlePadding": 6}},
                 "y": {"field": "y", "type": "quantitative", "title": "Inhibition rate（ %）",
                       "scale": {"domain": [-20, 120], "nice": false, "zero": false},
                       "axis": {"values": [-20, 0, 20, 40, 60, 80, 100, 120], "tickCount": 20, "labelOverlap": false, "labelFlush": false, "labelFontSize": 21, "titleFontSize": 22, "tickSize": 10, "domainWidth": 2, "tickWidth": 2, "labelPadding": 4, "titlePadding": 8}},
                 "color": {"field": "s", "type": "nominal", "scale": {"domain": ["mNb6", "C5G2", "D3"], "range": ["#4646ee", "#ee3c3c", "#a0a0a0"]}},
                 "strokeDash": {"field": "s", "type": "nominal", "scale": {"domain": ["mNb6", "C5G2", "D3"], "range": [[1, 0], [1, 0], [3, 3]]}}
               }},
              {"data": {"name": "errA"}, "mark": {"type": "errorbar", "ticks": {"size": 10}, "thickness": 1.6},
               "encoding": {
                 "x": {"field": "x", "type": "quantitative", "title": "Nanobody Concentration (nM,log₁₀)"},
                 "y": {"field": "lo", "type": "quantitative", "title": "Inhibition rate（ %）"},
                 "y2": {"field": "hi"},
                 "color": {"field": "s", "type": "nominal"}
               }},
              {"data": {"name": "ptsA"}, "mark": {"type": "point", "filled": false, "size": 75, "strokeWidth": 2.4, "opacity": 1},
               "encoding": {
                 "x": {"field": "x", "type": "quantitative", "title": "Nanobody Concentration (nM,log₁₀)"},
                 "y": {"field": "y", "type": "quantitative", "title": "Inhibition rate（ %）"},
                 "color": {"field": "s", "type": "nominal"}
               }}
            ]
          },
          {
            "width": 280, "height": 280,
            "data": {"name": "legA"},
            "encoding": {"y": {"field": "s", "type": "nominal", "scale": {"type": "point", "domain": ["mNb6", "C5G2", "D3"], "range": [23, 99], "padding": 0}, "axis": null}},
            "layer": [
              {"mark": {"type": "point", "shape": "stroke", "size": 784, "strokeWidth": 1.8, "opacity": 1},
               "encoding": {"x": {"datum": "mk", "scale": {"type": "point", "domain": ["mk", "v"], "range": [77, 232], "padding": 0}, "axis": null},
                            "color": {"field": "s", "type": "nominal"}, "strokeDash": {"field": "s", "type": "nominal"}}},
              {"mark": {"type": "point", "filled": true, "color": "white", "size": 70, "opacity": 1},
               "encoding": {"x": {"datum": "mk"}}},
              {"mark": {"type": "point", "filled": false, "size": 70, "strokeWidth": 2.4, "opacity": 1},
               "encoding": {"x": {"datum": "mk"}, "color": {"field": "s", "type": "nominal"}}},
              {"mark": {"type": "text", "align": "left", "dx": 33, "fontSize": 21},
               "encoding": {"x": {"datum": "mk"}, "text": {"field": "s"}}},
              {"mark": {"type": "text", "fontSize": 21},
               "encoding": {"x": {"datum": "v"}, "text": {"field": "v"}}},
              {"transform": [{"filter": "datum.s == 'mNb6'"}], "mark": {"type": "text", "fontSize": 21, "dy": -40},
               "encoding": {"x": {"datum": "v"}, "text": {"value": "IC₅₀(nM)"}}}
            ]
          }
        ]
      }
    ]
  },
  {
    "bounds": "flush", "spacing": 421,
    "vconcat": [
      {
        "bounds": "flush", "spacing": 0,
        "hconcat": [
          {
            "width": 205, "height": 190,
            "title": {"text": "SARS-CoV-2-WT", "fontSize": 18.5, "fontWeight": "bold", "offset": 33},
            "layer": [
              {"data": {"name": "fit"}, "transform": [{"filter": "datum.p == 'WT'"}], "mark": {"type": "line", "interpolate": "monotone", "strokeWidth": 2},
               "encoding": {
                 "x": {"field": "x", "type": "quantitative", "title": "Log₁₀ ng/mL", "scale": {"domain": [-0.5, 3.5], "nice": false, "zero": false},
                       "axis": {"values": [-0.5, 0, 0.5, 1, 1.5, 2, 2.5, 3, 3.5], "tickCount": 20, "format": ".1f", "labelAngle": -45, "labelOverlap": false, "labelFlush": false, "titlePadding": 6}},
                 "y": {"field": "y", "type": "quantitative", "title": "Inhibition rate (%)", "scale": {"domain": [-20, 100], "nice": false, "zero": false},
                       "axis": {"values": [-20, 0, 20, 40, 60, 80, 100], "tickCount": 20, "labelOverlap": false, "labelFlush": false, "titleFontSize": 21, "titlePadding": 6}},
                 "color": {"field": "s", "type": "nominal", "scale": {"domain": ["C5G2", "mNb6", "D3", "C5"], "range": ["#ef3b3b", "#4e9ef3", "#a6a6a6", "#14b514"]}},
                 "strokeDash": {"field": "s", "type": "nominal", "scale": {"domain": ["C5G2", "mNb6", "D3", "C5"], "range": [[1, 0], [1, 0], [4, 3], [1, 0]]}}
               }},
              {"data": {"name": "pts"}, "transform": [{"filter": "datum.p == 'WT'"}], "mark": {"type": "point", "filled": true, "size": 48, "opacity": 1},
               "encoding": {
                 "x": {"field": "x", "type": "quantitative", "title": "Log₁₀ ng/mL"},
                 "y": {"field": "y", "type": "quantitative", "title": "Inhibition rate (%)"},
                 "color": {"field": "s", "type": "nominal"},
                 "shape": {"field": "s", "type": "nominal", "scale": {"domain": ["C5G2", "mNb6", "D3", "C5"], "range": ["circle", "square", "triangle-up", "diamond"]}}
               }}
            ]
          },
          {
            "width": 364, "height": 190,
            "data": {"name": "leg"},
            "transform": [{"filter": "datum.p == 'WT'"}],
            "encoding": {"y": {"field": "s", "type": "nominal", "scale": {"type": "point", "domain": ["C5G2", "mNb6", "D3", "C5"], "range": [47, 131], "padding": 0}, "axis": null}},
            "layer": [
              {"mark": {"type": "point", "shape": "stroke", "size": 400, "strokeWidth": 2, "opacity": 1},
               "encoding": {"x": {"datum": "mk", "scale": {"type": "point", "domain": ["mk", "x1", "ic", "nm"], "range": [58, 218], "padding": 0}, "axis": null},
                            "color": {"field": "s", "type": "nominal"}, "strokeDash": {"field": "s", "type": "nominal"}}},
              {"mark": {"type": "point", "filled": true, "size": 48, "opacity": 1},
               "encoding": {"x": {"datum": "mk"}, "color": {"field": "s", "type": "nominal"}, "shape": {"field": "s", "type": "nominal"}}},
              {"mark": {"type": "text", "align": "left", "dx": 20, "fontSize": 19}, "encoding": {"x": {"datum": "mk"}, "text": {"field": "s"}}},
              {"mark": {"type": "text", "fontSize": 19, "dx": -5}, "encoding": {"x": {"datum": "ic"}, "text": {"field": "ic"}}},
              {"mark": {"type": "text", "fontSize": 19}, "encoding": {"x": {"datum": "nm"}, "text": {"field": "nm"}}},
              {"transform": [{"filter": "datum.s == 'C5G2'"}], "mark": {"type": "text", "fontSize": 19, "dx": 16, "dy": -61.5}, "encoding": {"x": {"datum": "ic"}, "text": {"value": "IC₅₀"}}},
              {"transform": [{"filter": "datum.s == 'C5G2'"}], "mark": {"type": "text", "fontSize": 19, "dx": -5, "dy": -32}, "encoding": {"x": {"datum": "ic"}, "text": {"value": "ng/mL"}}},
              {"transform": [{"filter": "datum.s == 'C5G2'"}], "mark": {"type": "text", "fontSize": 19, "dy": -32}, "encoding": {"x": {"datum": "nm"}, "text": {"value": "nM"}}}
            ]
          },
          {
            "width": 208, "height": 190,
            "title": {"text": "B.1.1.7 (Alpha)", "fontSize": 18.5, "fontWeight": "bold", "offset": 40},
            "layer": [
              {"data": {"name": "fit"}, "transform": [{"filter": "datum.p == 'Alpha'"}], "mark": {"type": "line", "interpolate": "monotone", "strokeWidth": 2},
               "encoding": {
                 "x": {"field": "x", "type": "quantitative", "title": "Log₁₀ ng/mL", "scale": {"domain": [-0.5, 3.5], "nice": false, "zero": false},
                       "axis": {"values": [-0.5, 0, 0.5, 1, 1.5, 2, 2.5, 3, 3.5], "tickCount": 20, "format": ".1f", "labelAngle": -45, "labelOverlap": false, "labelFlush": false, "titlePadding": 6}},
                 "y": {"field": "y", "type": "quantitative", "title": "Inhibition rate (%)", "scale": {"domain": [-20, 100], "nice": false, "zero": false},
                       "axis": {"values": [-20, 0, 20, 40, 60, 80, 100], "tickCount": 20, "labelOverlap": false, "labelFlush": false, "titleFontSize": 21, "titlePadding": 6}},
                 "color": {"field": "s", "type": "nominal"},
                 "strokeDash": {"field": "s", "type": "nominal"}
               }},
              {"data": {"name": "pts"}, "transform": [{"filter": "datum.p == 'Alpha'"}], "mark": {"type": "point", "filled": true, "size": 48, "opacity": 1},
               "encoding": {
                 "x": {"field": "x", "type": "quantitative", "title": "Log₁₀ ng/mL"},
                 "y": {"field": "y", "type": "quantitative", "title": "Inhibition rate (%)"},
                 "color": {"field": "s", "type": "nominal"},
                 "shape": {"field": "s", "type": "nominal"}
               }}
            ]
          },
          {
            "width": 240, "height": 190,
            "data": {"name": "leg"},
            "transform": [{"filter": "datum.p == 'Alpha'"}],
            "encoding": {"y": {"field": "s", "type": "nominal", "scale": {"type": "point", "domain": ["C5G2", "mNb6", "D3", "C5"], "range": [31, 106], "padding": 0}, "axis": null}},
            "layer": [
              {"mark": {"type": "point", "shape": "stroke", "size": 400, "strokeWidth": 2, "opacity": 1},
               "encoding": {"x": {"datum": "mk", "scale": {"type": "point", "domain": ["mk", "x1", "ic", "nm"], "range": [46, 215], "padding": 0}, "axis": null},
                            "color": {"field": "s", "type": "nominal"}, "strokeDash": {"field": "s", "type": "nominal"}}},
              {"mark": {"type": "point", "filled": true, "size": 48, "opacity": 1},
               "encoding": {"x": {"datum": "mk"}, "color": {"field": "s", "type": "nominal"}, "shape": {"field": "s", "type": "nominal"}}},
              {"mark": {"type": "text", "align": "left", "dx": 20, "fontSize": 19}, "encoding": {"x": {"datum": "mk"}, "text": {"field": "s"}}},
              {"mark": {"type": "text", "fontSize": 19, "dx": 2}, "encoding": {"x": {"datum": "ic"}, "text": {"field": "ic"}}},
              {"mark": {"type": "text", "fontSize": 19}, "encoding": {"x": {"datum": "nm"}, "text": {"field": "nm"}}},
              {"transform": [{"filter": "datum.s == 'C5G2'"}], "mark": {"type": "text", "fontSize": 19, "dx": 22, "dy": -56.5}, "encoding": {"x": {"datum": "ic"}, "text": {"value": "IC₅₀"}}},
              {"transform": [{"filter": "datum.s == 'C5G2'"}], "mark": {"type": "text", "fontSize": 19, "dx": 2, "dy": -32}, "encoding": {"x": {"datum": "ic"}, "text": {"value": "ng/mL"}}},
              {"transform": [{"filter": "datum.s == 'C5G2'"}], "mark": {"type": "text", "fontSize": 19, "dy": -32}, "encoding": {"x": {"datum": "nm"}, "text": {"value": "nM"}}}
            ]
          }
        ]
      },
      {
        "bounds": "flush", "spacing": 0,
        "hconcat": [
          {
            "width": 205, "height": 191,
            "title": {"text": "P.1 (Gamma)", "fontSize": 18.5, "fontWeight": "bold", "offset": 33},
            "layer": [
              {"data": {"name": "fit"}, "transform": [{"filter": "datum.p == 'Gamma'"}], "mark": {"type": "line", "interpolate": "monotone", "strokeWidth": 2},
               "encoding": {
                 "x": {"field": "x", "type": "quantitative", "title": "Log₁₀ ng/mL", "scale": {"domain": [-0.5, 3.5], "nice": false, "zero": false},
                       "axis": {"values": [-0.5, 0, 0.5, 1, 1.5, 2, 2.5, 3, 3.5], "tickCount": 20, "format": ".1f", "labelAngle": -45, "labelOverlap": false, "labelFlush": false, "titlePadding": 6}},
                 "y": {"field": "y", "type": "quantitative", "title": "Inhibition rate (%)", "scale": {"domain": [-20, 100], "nice": false, "zero": false},
                       "axis": {"values": [-20, 0, 20, 40, 60, 80, 100], "tickCount": 20, "labelOverlap": false, "labelFlush": false, "titleFontSize": 21, "titlePadding": 6}},
                 "color": {"field": "s", "type": "nominal"},
                 "strokeDash": {"field": "s", "type": "nominal"}
               }},
              {"data": {"name": "pts"}, "transform": [{"filter": "datum.p == 'Gamma'"}], "mark": {"type": "point", "filled": true, "size": 48, "opacity": 1},
               "encoding": {
                 "x": {"field": "x", "type": "quantitative", "title": "Log₁₀ ng/mL"},
                 "y": {"field": "y", "type": "quantitative", "title": "Inhibition rate (%)"},
                 "color": {"field": "s", "type": "nominal"},
                 "shape": {"field": "s", "type": "nominal"}
               }}
            ]
          },
          {
            "width": 364, "height": 191,
            "data": {"name": "leg"},
            "transform": [{"filter": "datum.p == 'Gamma'"}],
            "encoding": {"y": {"field": "s", "type": "nominal", "scale": {"type": "point", "domain": ["C5G2", "mNb6", "D3", "C5"], "range": [41.5, 116], "padding": 0}, "axis": null}},
            "layer": [
              {"mark": {"type": "point", "shape": "stroke", "size": 400, "strokeWidth": 2, "opacity": 1},
               "encoding": {"x": {"datum": "mk", "scale": {"type": "point", "domain": ["mk", "x1", "ic", "nm"], "range": [61, 221], "padding": 0}, "axis": null},
                            "color": {"field": "s", "type": "nominal"}, "strokeDash": {"field": "s", "type": "nominal"}}},
              {"mark": {"type": "point", "filled": true, "size": 48, "opacity": 1},
               "encoding": {"x": {"datum": "mk"}, "color": {"field": "s", "type": "nominal"}, "shape": {"field": "s", "type": "nominal"}}},
              {"mark": {"type": "text", "align": "left", "dx": 20, "fontSize": 19}, "encoding": {"x": {"datum": "mk"}, "text": {"field": "s"}}},
              {"mark": {"type": "text", "fontSize": 19, "dx": -14}, "encoding": {"x": {"datum": "ic"}, "text": {"field": "ic"}}},
              {"mark": {"type": "text", "fontSize": 19}, "encoding": {"x": {"datum": "nm"}, "text": {"field": "nm"}}},
              {"transform": [{"filter": "datum.s == 'C5G2'"}], "mark": {"type": "text", "fontSize": 19, "dx": 8, "dy": -61.5}, "encoding": {"x": {"datum": "ic"}, "text": {"value": "IC₅₀"}}},
              {"transform": [{"filter": "datum.s == 'C5G2'"}], "mark": {"type": "text", "fontSize": 19, "dx": -14, "dy": -35.5}, "encoding": {"x": {"datum": "ic"}, "text": {"value": "ng/mL"}}},
              {"transform": [{"filter": "datum.s == 'C5G2'"}], "mark": {"type": "text", "fontSize": 19, "dy": -35.5}, "encoding": {"x": {"datum": "nm"}, "text": {"value": "nM"}}}
            ]
          },
          {
            "width": 208, "height": 191,
            "title": {"text": "B.1.351 (Beta)", "fontSize": 18.5, "fontWeight": "bold", "offset": 39},
            "layer": [
              {"data": {"name": "fit"}, "transform": [{"filter": "datum.p == 'Beta'"}], "mark": {"type": "line", "interpolate": "monotone", "strokeWidth": 2},
               "encoding": {
                 "x": {"field": "x", "type": "quantitative", "title": "Log₁₀ ng/mL", "scale": {"domain": [-0.5, 3.5], "nice": false, "zero": false},
                       "axis": {"values": [-0.5, 0, 0.5, 1, 1.5, 2, 2.5, 3, 3.5], "tickCount": 20, "format": ".1f", "labelAngle": -45, "labelOverlap": false, "labelFlush": false, "titlePadding": 6}},
                 "y": {"field": "y", "type": "quantitative", "title": "Inhibition rate (%)", "scale": {"domain": [-20, 100], "nice": false, "zero": false},
                       "axis": {"values": [-20, 0, 20, 40, 60, 80, 100], "tickCount": 20, "labelOverlap": false, "labelFlush": false, "titleFontSize": 21, "titlePadding": 6}},
                 "color": {"field": "s", "type": "nominal"},
                 "strokeDash": {"field": "s", "type": "nominal"}
               }},
              {"data": {"name": "pts"}, "transform": [{"filter": "datum.p == 'Beta'"}], "mark": {"type": "point", "filled": true, "size": 48, "opacity": 1},
               "encoding": {
                 "x": {"field": "x", "type": "quantitative", "title": "Log₁₀ ng/mL"},
                 "y": {"field": "y", "type": "quantitative", "title": "Inhibition rate (%)"},
                 "color": {"field": "s", "type": "nominal"},
                 "shape": {"field": "s", "type": "nominal"}
               }}
            ]
          },
          {
            "width": 240, "height": 191,
            "data": {"name": "leg"},
            "transform": [{"filter": "datum.p == 'Beta'"}],
            "encoding": {"y": {"field": "s", "type": "nominal", "scale": {"type": "point", "domain": ["C5G2", "mNb6", "D3", "C5"], "range": [37.5, 114], "padding": 0}, "axis": null}},
            "layer": [
              {"mark": {"type": "point", "shape": "stroke", "size": 400, "strokeWidth": 2, "opacity": 1},
               "encoding": {"x": {"datum": "mk", "scale": {"type": "point", "domain": ["mk", "x1", "ic", "nm"], "range": [47, 225], "padding": 0}, "axis": null},
                            "color": {"field": "s", "type": "nominal"}, "strokeDash": {"field": "s", "type": "nominal"}}},
              {"mark": {"type": "point", "filled": true, "size": 48, "opacity": 1},
               "encoding": {"x": {"datum": "mk"}, "color": {"field": "s", "type": "nominal"}, "shape": {"field": "s", "type": "nominal"}}},
              {"mark": {"type": "text", "align": "left", "dx": 20, "fontSize": 19}, "encoding": {"x": {"datum": "mk"}, "text": {"field": "s"}}},
              {"mark": {"type": "text", "fontSize": 19, "dx": 2}, "encoding": {"x": {"datum": "ic"}, "text": {"field": "ic"}}},
              {"mark": {"type": "text", "fontSize": 19}, "encoding": {"x": {"datum": "nm"}, "text": {"field": "nm"}}},
              {"transform": [{"filter": "datum.s == 'C5G2'"}], "mark": {"type": "text", "fontSize": 19, "dx": 28, "dy": -52.5}, "encoding": {"x": {"datum": "ic"}, "text": {"value": "IC₅₀"}}},
              {"transform": [{"filter": "datum.s == 'C5G2'"}], "mark": {"type": "text", "fontSize": 19, "dx": 2, "dy": -31.5}, "encoding": {"x": {"datum": "ic"}, "text": {"value": "ng/mL"}}},
              {"transform": [{"filter": "datum.s == 'C5G2'"}], "mark": {"type": "text", "fontSize": 19, "dy": -31.5}, "encoding": {"x": {"datum": "nm"}, "text": {"value": "nM"}}}
            ]
          }
        ]
      },
      {
        "bounds": "flush", "spacing": 0,
        "hconcat": [
          {
            "width": 210, "height": 191,
            "title": {"text": "B.1.617.2 (Delta)", "fontSize": 18.5, "fontWeight": "bold", "offset": 22},
            "layer": [
              {"data": {"name": "fit"}, "transform": [{"filter": "datum.p == 'Delta'"}], "mark": {"type": "line", "interpolate": "monotone", "strokeWidth": 2},
               "encoding": {
                 "x": {"field": "x", "type": "quantitative", "title": "Log₁₀ ng/mL", "scale": {"domain": [-0.5, 5.5], "nice": false, "zero": false},
                       "axis": {"values": [-0.5, 0.5, 1.5, 2.5, 3.5, 4.5, 5.5], "tickCount": 20, "format": ".1f", "labelAngle": -45, "labelOverlap": false, "labelFlush": false, "titlePadding": 6}},
                 "y": {"field": "y", "type": "quantitative", "title": "Inhibition rate (%)", "scale": {"domain": [-20, 100], "nice": false, "zero": false},
                       "axis": {"values": [-20, 0, 20, 40, 60, 80, 100], "tickCount": 20, "labelOverlap": false, "labelFlush": false, "titleFontSize": 21, "titlePadding": 6}},
                 "color": {"field": "s", "type": "nominal"},
                 "strokeDash": {"field": "s", "type": "nominal"}
               }},
              {"data": {"name": "err"}, "transform": [{"filter": "datum.p == 'Delta'"}], "mark": {"type": "errorbar", "ticks": {"size": 6}, "thickness": 1.3},
               "encoding": {
                 "x": {"field": "x", "type": "quantitative", "title": "Log₁₀ ng/mL"},
                 "y": {"field": "lo", "type": "quantitative", "title": "Inhibition rate (%)"},
                 "y2": {"field": "hi"},
                 "color": {"field": "s", "type": "nominal"}
               }},
              {"data": {"name": "pts"}, "transform": [{"filter": "datum.p == 'Delta'"}], "mark": {"type": "point", "filled": true, "size": 48, "opacity": 1},
               "encoding": {
                 "x": {"field": "x", "type": "quantitative", "title": "Log₁₀ ng/mL"},
                 "y": {"field": "y", "type": "quantitative", "title": "Inhibition rate (%)"},
                 "color": {"field": "s", "type": "nominal"},
                 "shape": {"field": "s", "type": "nominal"}
               }}
            ]
          },
          {
            "width": 359, "height": 191,
            "data": {"name": "leg"},
            "transform": [{"filter": "datum.p == 'Delta'"}],
            "encoding": {"y": {"field": "s", "type": "nominal", "scale": {"type": "point", "domain": ["C5G2", "mNb6", "D3", "C5"], "range": [22.75, 99.75], "padding": 0}, "axis": null}},
            "layer": [
              {"mark": {"type": "point", "shape": "stroke", "size": 400, "strokeWidth": 2, "opacity": 1},
               "encoding": {"x": {"datum": "mk", "scale": {"type": "point", "domain": ["mk", "x1", "ic", "nm"], "range": [47, 211], "padding": 0}, "axis": null},
                            "color": {"field": "s", "type": "nominal"}, "strokeDash": {"field": "s", "type": "nominal"}}},
              {"mark": {"type": "point", "filled": true, "size": 48, "opacity": 1},
               "encoding": {"x": {"datum": "mk"}, "color": {"field": "s", "type": "nominal"}, "shape": {"field": "s", "type": "nominal"}}},
              {"mark": {"type": "text", "align": "left", "dx": 20, "fontSize": 19}, "encoding": {"x": {"datum": "mk"}, "text": {"field": "s"}}},
              {"mark": {"type": "text", "fontSize": 19, "dx": -6}, "encoding": {"x": {"datum": "ic"}, "text": {"field": "ic"}}},
              {"mark": {"type": "text", "fontSize": 19}, "encoding": {"x": {"datum": "nm"}, "text": {"field": "nm"}}},
              {"transform": [{"filter": "datum.s == 'C5G2'"}], "mark": {"type": "text", "fontSize": 19, "dx": 18, "dy": -62}, "encoding": {"x": {"datum": "ic"}, "text": {"value": "IC₅₀"}}},
              {"transform": [{"filter": "datum.s == 'C5G2'"}], "mark": {"type": "text", "fontSize": 19, "dx": -6, "dy": -38.75}, "encoding": {"x": {"datum": "ic"}, "text": {"value": "ng/mL"}}},
              {"transform": [{"filter": "datum.s == 'C5G2'"}], "mark": {"type": "text", "fontSize": 19, "dy": -38.75}, "encoding": {"x": {"datum": "nm"}, "text": {"value": "nM"}}}
            ]
          },
          {
            "width": 218, "height": 191,
            "title": {"text": "B.1.1.529 (Omicron)", "fontSize": 18.5, "fontWeight": "bold", "offset": 27},
            "layer": [
              {"data": {"name": "fit"}, "transform": [{"filter": "datum.p == 'Omicron'"}], "mark": {"type": "line", "interpolate": "monotone", "strokeWidth": 2},
               "encoding": {
                 "x": {"field": "x", "type": "quantitative", "title": "Log₁₀ ng/mL", "scale": {"domain": [-0.5, 5.5], "nice": false, "zero": false},
                       "axis": {"values": [-0.5, 0.5, 1.5, 2.5, 3.5, 4.5, 5.5], "tickCount": 20, "format": ".1f", "labelAngle": -45, "labelOverlap": false, "labelFlush": false, "titlePadding": 6}},
                 "y": {"field": "y", "type": "quantitative", "title": "Inhibition rate (%)", "scale": {"domain": [-80, 120], "nice": false, "zero": false},
                       "axis": {"values": [-80, -40, 0, 40, 80, 120], "tickCount": 20, "labelOverlap": false, "labelFlush": false, "titleFontSize": 21, "titlePadding": 6}},
                 "color": {"field": "s", "type": "nominal"},
                 "strokeDash": {"field": "s", "type": "nominal"}
               }},
              {"data": {"name": "err"}, "transform": [{"filter": "datum.p == 'Omicron'"}], "mark": {"type": "errorbar", "ticks": {"size": 6}, "thickness": 1.3},
               "encoding": {
                 "x": {"field": "x", "type": "quantitative", "title": "Log₁₀ ng/mL"},
                 "y": {"field": "lo", "type": "quantitative", "title": "Inhibition rate (%)"},
                 "y2": {"field": "hi"},
                 "color": {"field": "s", "type": "nominal"}
               }},
              {"data": {"name": "pts"}, "transform": [{"filter": "datum.p == 'Omicron'"}], "mark": {"type": "point", "filled": true, "size": 48, "opacity": 1},
               "encoding": {
                 "x": {"field": "x", "type": "quantitative", "title": "Log₁₀ ng/mL"},
                 "y": {"field": "y", "type": "quantitative", "title": "Inhibition rate (%)"},
                 "color": {"field": "s", "type": "nominal"},
                 "shape": {"field": "s", "type": "nominal"}
               }}
            ]
          },
          {
            "width": 240, "height": 191,
            "data": {"name": "leg"},
            "transform": [{"filter": "datum.p == 'Omicron'"}],
            "encoding": {"y": {"field": "s", "type": "nominal", "scale": {"type": "point", "domain": ["C5G2", "mNb6", "D3", "C5"], "range": [19.5, 95.5], "padding": 0}, "axis": null}},
            "layer": [
              {"mark": {"type": "point", "shape": "stroke", "size": 400, "strokeWidth": 2, "opacity": 1},
               "encoding": {"x": {"datum": "mk", "scale": {"type": "point", "domain": ["mk", "x1", "ic", "nm"], "range": [50, 188], "padding": 0}, "axis": null},
                            "color": {"field": "s", "type": "nominal"}, "strokeDash": {"field": "s", "type": "nominal"}}},
              {"mark": {"type": "point", "filled": true, "size": 48, "opacity": 1},
               "encoding": {"x": {"datum": "mk"}, "color": {"field": "s", "type": "nominal"}, "shape": {"field": "s", "type": "nominal"}}},
              {"mark": {"type": "text", "align": "left", "dx": 20, "fontSize": 19}, "encoding": {"x": {"datum": "mk"}, "text": {"field": "s"}}},
              {"mark": {"type": "text", "fontSize": 19, "dx": -2}, "encoding": {"x": {"datum": "ic"}, "text": {"field": "ic"}}},
              {"mark": {"type": "text", "fontSize": 19}, "encoding": {"x": {"datum": "nm"}, "text": {"field": "nm"}}},
              {"transform": [{"filter": "datum.s == 'C5G2'"}], "mark": {"type": "text", "fontSize": 19, "dx": 18, "dy": -47.75}, "encoding": {"x": {"datum": "ic"}, "text": {"value": "IC₅₀"}}},
              {"transform": [{"filter": "datum.s == 'C5G2'"}], "mark": {"type": "text", "fontSize": 19, "dx": -2, "dy": -23.5}, "encoding": {"x": {"datum": "ic"}, "text": {"value": "ng/mL"}}},
              {"transform": [{"filter": "datum.s == 'C5G2'"}], "mark": {"type": "text", "fontSize": 19, "dy": -23.5}, "encoding": {"x": {"datum": "nm"}, "text": {"value": "nM"}}}
            ]
          }
        ]
      }
    ]
  }
]
}
